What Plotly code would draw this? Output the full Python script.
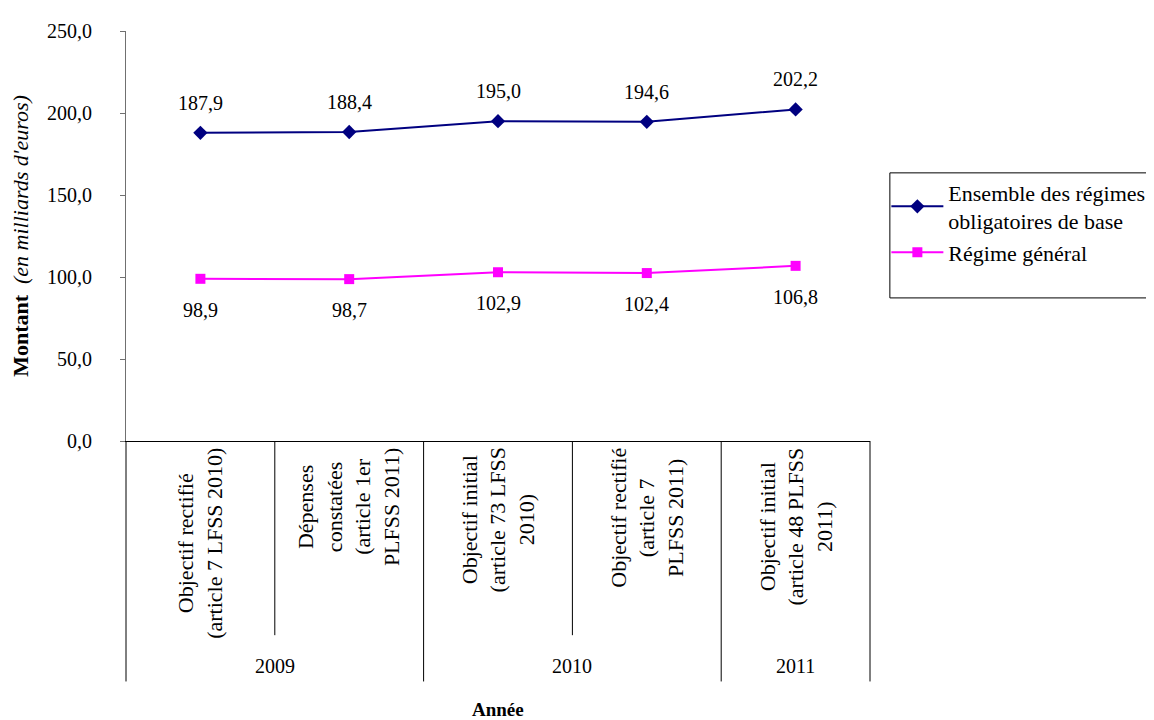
import plotly.graph_objects as go

categories = [
    "Objectif rectifié<br>(article 7 LFSS 2010)",
    "Dépenses<br>constatées<br>(article 1er<br>PLFSS 2011)",
    "Objectif initial<br>(article 73 LFSS<br>2010)",
    "Objectif rectifié<br>(article 7<br>PLFSS 2011)",
    "Objectif initial<br>(article 48 PLFSS<br>2011)",
]
years = ["2009", "2010", "2011"]
year_span = [(0, 1), (2, 3), (4, 4)]
ensemble = [187.9, 188.4, 195.0, 194.6, 202.2]
regime_general = [98.9, 98.7, 102.9, 102.4, 106.8]
yticks = [0, 50, 100, 150, 200, 250]

FONT = "Liberation Serif, Times New Roman, serif"
NAVY = "#000080"
MAGENTA = "#FF00FF"
AXIS = "#707070"

xs = list(range(len(categories)))

fig = go.Figure()
fig.add_trace(go.Scatter(
    x=xs, y=ensemble, mode="lines+markers",
    name="Ensemble des régimes<br>obligatoires de base",
    line=dict(color=NAVY, width=2),
    marker=dict(symbol="diamond", size=11, color=NAVY),
))
fig.add_trace(go.Scatter(
    x=xs, y=regime_general, mode="lines+markers",
    name="Régime général",
    line=dict(color=MAGENTA, width=2),
    marker=dict(symbol="square", size=10, color=MAGENTA),
))

annotations = []
fmt = lambda v: f"{v:.1f}".replace(".", ",")
for i, v in enumerate(ensemble):
    annotations.append(dict(x=i, y=v, xref="x", yref="y", text=fmt(v), showarrow=False,
                            yshift=30, font=dict(family=FONT, size=20, color="black")))
for i, v in enumerate(regime_general):
    annotations.append(dict(x=i, y=v, xref="x", yref="y", text=fmt(v), showarrow=False,
                            yshift=-31, font=dict(family=FONT, size=20, color="black")))
for i, c in enumerate(categories):
    annotations.append(dict(x=i, y=-0.012, xref="x", yref="paper", text=c, showarrow=False,
                            textangle=-90, xanchor="center", yanchor="top", align="center",
                            font=dict(family=FONT, size=22, color="black")))
for yr, (a, b) in zip(years, year_span):
    annotations.append(dict(x=(a + b) / 2, y=-0.548, xref="x", yref="paper", text=yr,
                            showarrow=False, yanchor="middle",
                            font=dict(family=FONT, size=20, color="black")))
annotations.append(dict(x=0.5, y=-0.654, xref="paper", yref="paper", text="<b>Année</b>",
                        showarrow=False, yanchor="middle",
                        font=dict(family=FONT, size=19, color="black")))

shapes = []
short_b, long_b = -0.4736, -0.5865
for k in range(len(categories) - 1):
    same_year = any(a <= k and k + 1 <= b for a, b in year_span)
    shapes.append(dict(type="line", xref="x", yref="paper", x0=k + 0.5, x1=k + 0.5,
                       y0=0, y1=short_b if same_year else long_b,
                       line=dict(color="black", width=1)))
for xp in (0, 1):
    shapes.append(dict(type="line", xref="paper", yref="paper", x0=xp, x1=xp,
                       y0=0, y1=long_b, line=dict(color="black", width=1)))
# legend frame
shapes.append(dict(type="rect", xref="paper", yref="paper",
                   x0=1.0267, x1=1.372, y0=0.654, y1=0.349,
                   line=dict(color="black", width=1)))

fig.update_layout(
    width=1154, height=720,
    margin=dict(l=115, r=289, t=17, b=287),
    paper_bgcolor="white", plot_bgcolor="white",
    separators=", ",
    showlegend=True,
    legend=dict(x=1.022, y=0.658, xanchor="left", yanchor="top",
                font=dict(family=FONT, size=22, color="black"),
                bgcolor="rgba(0,0,0,0)", borderwidth=0, tracegroupgap=0,
                itemwidth=52),
    annotations=annotations,
    shapes=shapes,
    font=dict(family=FONT, size=20, color="black"),
)
fig.update_xaxes(range=[-0.5, len(categories) - 0.5], showgrid=False, zeroline=False,
                 showticklabels=False, ticks="", showline=True, linecolor="black",
                 linewidth=1, fixedrange=True)
fig.update_yaxes(range=[0, 250], tickvals=yticks, tickformat=".1f", showgrid=False,
                 zeroline=False, showline=True, linecolor=AXIS, linewidth=1,
                 ticks="outside", ticklen=5, tickcolor=AXIS, ticklabelstandoff=24,
                 tickfont=dict(family=FONT, size=20, color="black"),
                 title=dict(text="<b>Montant</b>  <i>(en milliards d'euros)</i>",
                            font=dict(family=FONT, size=22, color="black"), standoff=12))

fig.write_html("out.html")
